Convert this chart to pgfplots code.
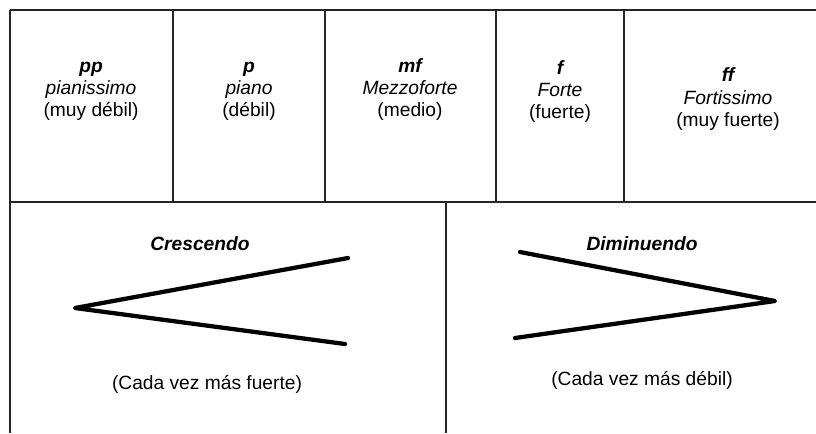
\documentclass[border=0pt]{standalone}
\usepackage{fontspec}
\setmainfont{Liberation Sans}
\usepackage{pgfplots}
\pgfplotsset{compat=1.18}
\tikzset{txt/.style={font=\fontsize{14.4}{17}\selectfont, inner sep=0pt, anchor=base}}
\begin{document}
\begin{tikzpicture}
\begin{axis}[
  scale only axis, width=612pt, height=324.75pt,
  xmin=0, xmax=816, ymin=0, ymax=433, y dir=reverse,
  hide axis, clip=true,
]
% grid lines
\addplot[black!85, line width=1.1pt] coordinates {(10,10) (816,10)};
\addplot[black!85, line width=1.1pt] coordinates {(10,10) (10,433)};
\addplot[black!85, line width=1.1pt] coordinates {(10,202) (816,202)};
\addplot[black!85, line width=1.1pt] coordinates {(173,10) (173,202)};
\addplot[black!85, line width=1.1pt] coordinates {(325,10) (325,202)};
\addplot[black!85, line width=1.1pt] coordinates {(496,10) (496,202)};
\addplot[black!85, line width=1.1pt] coordinates {(624,10) (624,202)};
\addplot[black!85, line width=1.1pt] coordinates {(446,202) (446,433)};
% hairpins
\addplot[black, line width=3.2pt, line join=round, line cap=round] coordinates {(348,258) (75,308) (345,344)};
\addplot[black, line width=3.2pt, line join=round, line cap=round] coordinates {(520,252) (775,301) (515,338)};
% texts
\node[txt] at (axis cs:91,72) {\bfseries\itshape pp};
\node[txt] at (axis cs:91,94) {\itshape pianissimo};
\node[txt] at (axis cs:91,116) {(muy débil)};
\node[txt] at (axis cs:249,72) {\bfseries\itshape p};
\node[txt] at (axis cs:249,94) {\itshape piano};
\node[txt] at (axis cs:249,116) {(débil)};
\node[txt] at (axis cs:410,72) {\bfseries\itshape mf};
\node[txt] at (axis cs:410,94) {\itshape Mezzoforte};
\node[txt] at (axis cs:410,116) {(medio)};
\node[txt] at (axis cs:560,74) {\bfseries\itshape f};
\node[txt] at (axis cs:560,96) {\itshape Forte};
\node[txt] at (axis cs:560,118) {(fuerte)};
\node[txt] at (axis cs:728,81) {\bfseries\itshape ff};
\node[txt] at (axis cs:728,104) {\itshape Fortissimo};
\node[txt] at (axis cs:728,126) {(muy fuerte)};
\node[txt] at (axis cs:200,250) {\bfseries\itshape Crescendo};
\node[txt] at (axis cs:207,389) {(Cada vez más fuerte)};
\node[txt] at (axis cs:642,250) {\bfseries\itshape Diminuendo};
\node[txt] at (axis cs:642,385) {(Cada vez más débil)};
\end{axis}
\pgfresetboundingbox
\useasboundingbox (current axis.south west) rectangle (current axis.north east);
\end{tikzpicture}
\end{document}
